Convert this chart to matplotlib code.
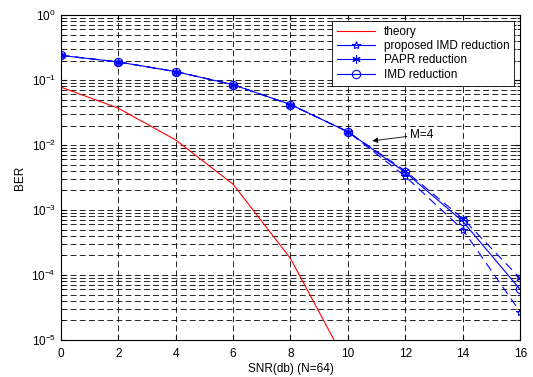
import numpy as np
import matplotlib
matplotlib.use("Agg")
import matplotlib.pyplot as plt
from matplotlib.lines import Line2D

plt.rcParams['font.family'] = ['Liberation Sans', 'DejaVu Sans']
plt.rcParams['font.size'] = 8.5

snr = [0, 2, 4, 6, 8, 10, 12, 14, 16]
snr_theory = [0, 2, 4, 6, 8, 10]
ber_theory = [0.078, 0.037, 0.012, 0.0025, 1.8e-4, 4e-6]
ber_proposed = [0.24, 0.19, 0.135, 0.085, 0.042, 0.016, 3.3e-3, 5.0e-4, 2.7e-5]
ber_papr = [0.24, 0.19, 0.135, 0.085, 0.042, 0.016, 4.0e-3, 7.4e-4, 8.9e-5]
ber_imd = [0.24, 0.19, 0.135, 0.085, 0.042, 0.016, 3.8e-3, 6.7e-4, 6.0e-5]

fig = plt.figure(figsize=(5.33, 3.77), dpi=100)
ax = fig.add_axes([0.114, 0.098, 0.862, 0.862])

ax.semilogy(snr_theory, ber_theory, color='red', lw=0.8)
ax.semilogy(snr, ber_proposed, color='blue', lw=0.8, ls=(0, (8, 5)),
            marker='*', ms=6, mfc='none', mec='blue', mew=0.8)
ax.semilogy(snr, ber_papr, color='blue', lw=0.8, ls=(0, (8, 5)),
            marker=(6, 2, 0), ms=6, mec='blue', mew=0.8)
ax.semilogy(snr, ber_imd, color='blue', lw=0.8,
            marker='o', ms=6, mfc='none', mec='blue', mew=0.8)

ax.set_xlim(0, 16)
ax.set_ylim(1e-5, 1)
ax.set_xticks(range(0, 17, 2))
ax.grid(True, which='major', color='black', ls=(0, (7, 4)), lw=0.6)
ax.grid(True, which='minor', axis='y', color='black', ls=(0, (7, 4)), lw=0.6)
ax.tick_params(which='both', direction='in', top=True, right=True)
ax.tick_params(axis='x', pad=6)
for s in ax.spines.values():
    s.set_linewidth(0.8)

ax.set_xlabel('SNR(db) (N=64)', labelpad=2)
ax.set_ylabel('BER', labelpad=4)

ax.annotate('M=4', xy=(10.85, 0.0116), xytext=(12.15, 0.0145),
            va='center',
            arrowprops=dict(arrowstyle='-|>', color='black', lw=0.6,
                            mutation_scale=8, shrinkA=0, shrinkB=0))

handles = [
    Line2D([], [], color='red', lw=0.8),
    Line2D([], [], color='blue', lw=0.8, marker='*', ms=6, mfc='none', mew=0.8),
    Line2D([], [], color='blue', lw=0.8, marker=(6, 2, 0), ms=6, mew=0.8),
    Line2D([], [], color='blue', lw=0.8, marker='o', ms=6, mfc='none', mew=0.8),
]
labels = ['theory', 'proposed IMD reduction', 'PAPR reduction', 'IMD reduction']
leg = ax.legend(handles, labels, loc='upper right', fancybox=False,
                framealpha=1, edgecolor='black',
                borderaxespad=0.5, handlelength=3.2, labelspacing=0.2)
leg.get_frame().set_linewidth(0.6)

fig.savefig('out.png', dpi=100)
